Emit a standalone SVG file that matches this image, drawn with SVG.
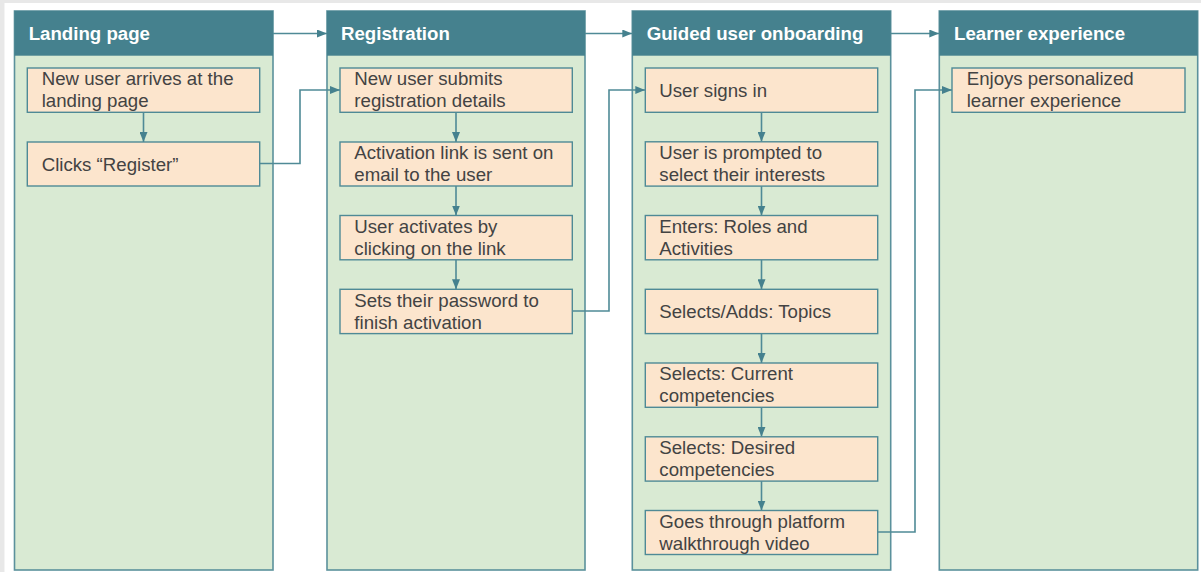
<svg xmlns="http://www.w3.org/2000/svg" width="1201" height="572" viewBox="0 0 1201 572">
<style>
.col{fill:#d9ead3;stroke:#5b919c;stroke-width:1.6}
.hdr{fill:#45818e}
.ht{font-family:"Liberation Sans",Arial,sans-serif;font-size:18.67px;font-weight:bold;fill:#ffffff}
.box{fill:#fce5cd;stroke:#4f8a96;stroke-width:1.4}
.bt{font-family:"Liberation Sans",Arial,sans-serif;font-size:18.67px;fill:#434343}
.cn{fill:none;stroke:#4f8a96;stroke-width:1.6}
</style>
<defs>
<marker id="ah" markerUnits="userSpaceOnUse" markerWidth="10" markerHeight="8" refX="10" refY="4" orient="auto">
<path d="M0,0 L10,4 L0,8 z" fill="#45818e"/>
</marker>
</defs>
<rect x="0" y="0" width="1201" height="572" fill="#e8e8e8"/>
<rect x="4.5" y="3" width="1196.5" height="569" fill="#ffffff"/>

<g id="col-landing">
<rect class="col" x="14.5" y="11" width="258.5" height="559"/>
<rect class="hdr" x="14.5" y="11" width="258.5" height="44.7"/>
<text class="ht" x="28.7" y="40">Landing page</text>
</g>
<g id="col-registration">
<rect class="col" x="327" y="11" width="258" height="559"/>
<rect class="hdr" x="327" y="11" width="258" height="44.7"/>
<text class="ht" x="341" y="40">Registration</text>
</g>
<g id="col-onboarding">
<rect class="col" x="632.3" y="11" width="258.4" height="559"/>
<rect class="hdr" x="632.3" y="11" width="258.4" height="44.7"/>
<text class="ht" x="646.7" y="40">Guided user onboarding</text>
</g>
<g id="col-learner">
<rect class="col" x="939.3" y="11" width="258.4" height="559"/>
<rect class="hdr" x="939.3" y="11" width="258.4" height="44.7"/>
<text class="ht" x="954" y="40">Learner experience</text>
</g>

<g id="connectors">
<path class="cn" d="M273,33.5 H327" marker-end="url(#ah)"/>
<path class="cn" d="M585,33.5 H632.3" marker-end="url(#ah)"/>
<path class="cn" d="M890.7,33.5 H939.3" marker-end="url(#ah)"/>
<path class="cn" d="M143.5,112.3 V142" marker-end="url(#ah)"/>
<path class="cn" d="M259.7,163.5 H300 V90 H340" marker-end="url(#ah)"/>
<path class="cn" d="M456,112.3 V142" marker-end="url(#ah)"/>
<path class="cn" d="M456,186 V215.5" marker-end="url(#ah)"/>
<path class="cn" d="M456,259.8 V289.3" marker-end="url(#ah)"/>
<path class="cn" d="M572.3,311 H609 V90 H645.3" marker-end="url(#ah)"/>
<path class="cn" d="M761.5,112.3 V141.8" marker-end="url(#ah)"/>
<path class="cn" d="M761.5,186.1 V215.5" marker-end="url(#ah)"/>
<path class="cn" d="M761.5,259.8 V289.3" marker-end="url(#ah)"/>
<path class="cn" d="M761.5,333.6 V363" marker-end="url(#ah)"/>
<path class="cn" d="M761.5,407.3 V436.8" marker-end="url(#ah)"/>
<path class="cn" d="M761.5,481.1 V510.5" marker-end="url(#ah)"/>
<path class="cn" d="M877.7,532 H915 V90 H952" marker-end="url(#ah)"/>
</g>

<g id="n-arrives">
<rect class="box" x="27.3" y="68" width="232.4" height="44.3"/>
<text class="bt" x="41.7" y="85.3">New user arrives at the</text>
<text class="bt" x="41.7" y="107.3">landing page</text>
</g>
<g id="n-register">
<rect class="box" x="27.3" y="142" width="232.4" height="44"/>
<text class="bt" x="41.7" y="171">Clicks “Register”</text>
</g>

<g id="n-submit">
<rect class="box" x="340" y="68" width="232.3" height="44.3"/>
<text class="bt" x="354.3" y="85.3">New user submits</text>
<text class="bt" x="354.3" y="107.3">registration details</text>
</g>
<g id="n-link">
<rect class="box" x="340" y="142" width="232.3" height="44"/>
<text class="bt" x="354.3" y="159.3">Activation link is sent on</text>
<text class="bt" x="354.3" y="181.3">email to the user</text>
</g>
<g id="n-activate">
<rect class="box" x="340" y="215.5" width="232.3" height="44.3"/>
<text class="bt" x="354.3" y="232.8">User activates by</text>
<text class="bt" x="354.3" y="254.8">clicking on the link</text>
</g>
<g id="n-password">
<rect class="box" x="340" y="289.3" width="232.3" height="44.3"/>
<text class="bt" x="354.3" y="306.6">Sets their password to</text>
<text class="bt" x="354.3" y="328.6">finish activation</text>
</g>

<g id="n-signin">
<rect class="box" x="645.3" y="68" width="232.4" height="44.3"/>
<text class="bt" x="659.3" y="97">User signs in</text>
</g>
<g id="n-interests">
<rect class="box" x="645.3" y="141.8" width="232.4" height="44.3"/>
<text class="bt" x="659.3" y="159.1">User is prompted to</text>
<text class="bt" x="659.3" y="181.1">select their interests</text>
</g>
<g id="n-roles">
<rect class="box" x="645.3" y="215.5" width="232.4" height="44.3"/>
<text class="bt" x="659.3" y="232.8">Enters: Roles and</text>
<text class="bt" x="659.3" y="254.8">Activities</text>
</g>
<g id="n-topics">
<rect class="box" x="645.3" y="289.3" width="232.4" height="44.3"/>
<text class="bt" x="659.3" y="318.3">Selects/Adds: Topics</text>
</g>
<g id="n-current">
<rect class="box" x="645.3" y="363" width="232.4" height="44.3"/>
<text class="bt" x="659.3" y="380.3">Selects: Current</text>
<text class="bt" x="659.3" y="402.3">competencies</text>
</g>
<g id="n-desired">
<rect class="box" x="645.3" y="436.8" width="232.4" height="44.3"/>
<text class="bt" x="659.3" y="454.1">Selects: Desired</text>
<text class="bt" x="659.3" y="476.1">competencies</text>
</g>
<g id="n-walkthrough">
<rect class="box" x="645.3" y="510.5" width="232.4" height="44"/>
<text class="bt" x="659.3" y="527.8">Goes through platform</text>
<text class="bt" x="659.3" y="549.8">walkthrough video</text>
</g>

<g id="n-enjoys">
<rect class="box" x="952" y="68" width="233" height="44.3"/>
<text class="bt" x="966.7" y="85.3">Enjoys personalized</text>
<text class="bt" x="966.7" y="107.3">learner experience</text>
</g>
</svg>
